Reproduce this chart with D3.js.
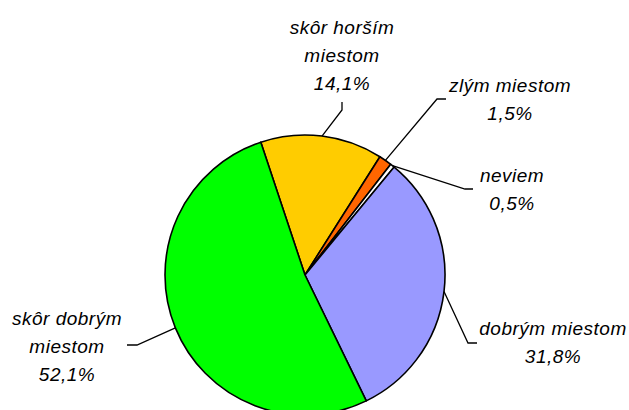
<!DOCTYPE html>
<html>
<head>
<meta charset="utf-8">
<script src="https://cdn.jsdelivr.net/npm/d3@7"></script>
<style>
  body { margin: 0; background: #fff; }
  svg { display: block; }
  text { font-family: "Liberation Sans", Arial, sans-serif; font-style: italic; font-size: 19px; letter-spacing: 0.5px; fill: #000; }
</style>
</head>
<body>
<svg id="chart" width="629" height="410"></svg>
<script>
const labels = [["skôr horším", "miestom"], ["zlým miestom"], ["neviem"], ["dobrým miestom"], ["skôr dobrým", "miestom"]];
const values = [14.1, 1.5, 0.5, 31.8, 52.1];
const colors = ["#FFCC00", "#FF6600", "#FFFFFF", "#9999FF", "#00FF00"];

// label placement: text centre x, first line y, leader elbow and end
const labelPos = [
    { tx: 342, ty: 27, elbow: [342, 110], end: [342, 102] },
    { tx: 510, ty: 85, elbow: [437, 99], end: [446, 99] },
    { tx: 512, ty: 175, elbow: [465, 189], end: [473, 189] },
    { tx: 553, ty: 328, elbow: [468, 343], end: [477, 343] },
    { tx: 67, ty: 318, elbow: [137, 345], end: [127, 345] }
];

const cx = 305, cy = 275, r = 140;
const lineH = 28;

const svg = d3.select("#chart");
const g = svg.append("g").attr("transform", `translate(${cx},${cy})`);

const pie = d3.pie()
    .sort(null)
    .value(d => d)
    .startAngle(-18.4 * Math.PI / 180)
    .endAngle((360 - 18.4) * Math.PI / 180);

const arcs = pie(values);
const arc = d3.arc().innerRadius(0).outerRadius(r);

g.selectAll("path.slice")
    .data(arcs)
    .enter().append("path")
    .attr("class", "slice")
    .attr("d", arc)
    .attr("fill", (d, i) => colors[i])
    .attr("stroke", "#000")
    .attr("stroke-width", 1.6)
    .attr("stroke-linejoin", "round");

// leader lines
arcs.forEach((d, i) => {
    const a = (d.startAngle + d.endAngle) / 2;
    const sx = cx + r * Math.sin(a), sy = cy - r * Math.cos(a);
    const p = labelPos[i];
    svg.append("polyline")
        .attr("points", [[sx, sy], p.elbow, p.end].map(q => q.join(",")).join(" "))
        .attr("fill", "none")
        .attr("stroke", "#000")
        .attr("stroke-width", 1.3);
});

// labels
arcs.forEach((d, i) => {
    const p = labelPos[i];
    const lines = labels[i].concat([values[i].toFixed(1).replace(".", ",") + "%"]);
    const t = svg.append("text")
        .attr("text-anchor", "middle");
    lines.forEach((s, k) => {
        t.append("tspan")
            .attr("x", p.tx)
            .attr("y", p.ty + k * lineH)
            .attr("dy", "0.35em")
            .text(s);
    });
});
</script>
</body>
</html>
